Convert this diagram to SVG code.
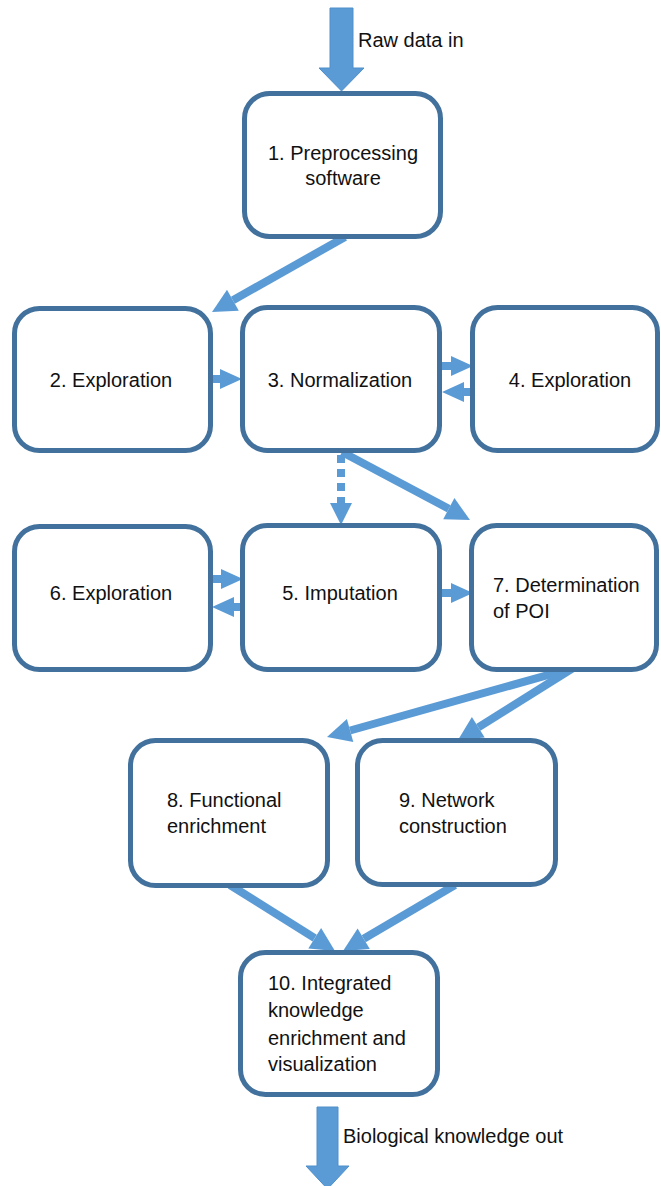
<svg xmlns="http://www.w3.org/2000/svg" width="661" height="1186" viewBox="0 0 661 1186">
<style>
.box{fill:#fff;stroke:#41719C;stroke-width:5}
.t{font-family:"Liberation Sans",Arial,sans-serif;font-size:20px;fill:#111}
.c{text-anchor:middle}
.sh{stroke:#5B9BD5;stroke-width:8;fill:none}
.hd{fill:#5B9BD5;stroke:none}
.blk{fill:#5B9BD5;stroke:#4F8FCB;stroke-width:1}
</style>
<rect width="661" height="1186" fill="#fff"/>
<g id="connectors">
  <polygon class="blk" points="330,8 353,8 353,68 364,68 341.5,91 319,68 330,68"/>
  <text class="t" x="358" y="47">Raw data in</text>
  <line class="sh" x1="345" y1="237" x2="232.9" y2="300.2"/>
  <polygon class="hd" points="212,312 238.8,310.7 227,289.7"/>
  <polygon class="hd" points="212,375 220,375 220,369 242,379 220,389 220,383 212,383"/>
  <polygon class="hd" points="442,362 451,362 451,356 473,366 451,376 451,370 442,370"/>
  <polygon class="hd" points="473,388 464,388 464,382 442,392 464,402 464,396 473,396"/>
  <line class="sh" x1="341" y1="455" x2="341" y2="503" stroke-dasharray="8 6"/>
  <polygon class="hd" points="330,503 352,503 341,525"/>
  <line class="sh" x1="342" y1="452" x2="448.8" y2="508.7"/>
  <polygon class="hd" points="470,520 443.2,519.3 454.4,498.1"/>
  <polygon class="hd" points="213,575 221,575 221,569 243,579 221,589 221,583 213,583"/>
  <polygon class="hd" points="242,603 234,603 234,597 212,607 234,617 234,611 242,611"/>
  <polygon class="hd" points="442,589 451,589 451,583 473,593 451,603 451,597 442,597"/>
  <line class="sh" x1="573" y1="668" x2="478.3" y2="727.3"/>
  <polygon class="hd" points="458,740 471.9,717.1 484.7,737.5"/>
  <line class="sh" x1="573" y1="668" x2="350.1" y2="730.5"/>
  <polygon class="hd" points="327,737 346.9,718.9 353.3,742.1"/>
  <line class="sh" x1="230" y1="885" x2="314.7" y2="938.2"/>
  <polygon class="hd" points="335,951 308.3,948.4 321.1,928"/>
  <line class="sh" x1="455" y1="885" x2="363.7" y2="938.8"/>
  <polygon class="hd" points="343,951 357.6,928.5 369.8,949.1"/>
  <polygon class="blk" points="317,1107 338,1107 338,1166 349,1166 327.5,1189 306,1166 317,1166"/>
  <text class="t" x="343" y="1143">Biological knowledge out</text>
</g>
<g id="n1"><rect class="box" x="244.5" y="93.5" width="196" height="143" rx="25"/>
<text class="t c" x="343" y="160">1. Preprocessing</text><text class="t c" x="343" y="185">software</text></g>
<g id="n2"><rect class="box" x="14.5" y="308.5" width="196" height="142" rx="25"/>
<text class="t c" x="111" y="387">2. Exploration</text></g>
<g id="n3"><rect class="box" x="242.5" y="307.5" width="197" height="143" rx="25"/>
<text class="t c" x="340" y="387">3. Normalization</text></g>
<g id="n4"><rect class="box" x="472.5" y="307.5" width="185" height="143" rx="25"/>
<text class="t c" x="570" y="387">4. Exploration</text></g>
<g id="n6"><rect class="box" x="14.5" y="526.5" width="196" height="143" rx="25"/>
<text class="t c" x="111" y="600">6. Exploration</text></g>
<g id="n5"><rect class="box" x="242.5" y="525.5" width="197" height="144" rx="25"/>
<text class="t c" x="340" y="600">5. Imputation</text></g>
<g id="n7"><rect class="box" x="471.5" y="525.5" width="185" height="144" rx="25"/>
<text class="t" x="493" y="592">7. Determination</text><text class="t" x="493" y="618">of POI</text></g>
<g id="n8"><rect class="box" x="130.5" y="740.5" width="197" height="145" rx="25"/>
<text class="t" x="167" y="807">8. Functional</text><text class="t" x="167" y="833">enrichment</text></g>
<g id="n9"><rect class="box" x="357.5" y="740.5" width="198" height="144" rx="25"/>
<text class="t" x="399" y="807">9. Network</text><text class="t" x="399" y="833">construction</text></g>
<g id="n10"><rect class="box" x="240.5" y="952.5" width="197" height="142" rx="25"/>
<text class="t" x="268" y="990">10. Integrated</text><text class="t" x="268" y="1017">knowledge</text><text class="t" x="268" y="1045">enrichment and</text><text class="t" x="268" y="1071">visualization</text></g>
</svg>
